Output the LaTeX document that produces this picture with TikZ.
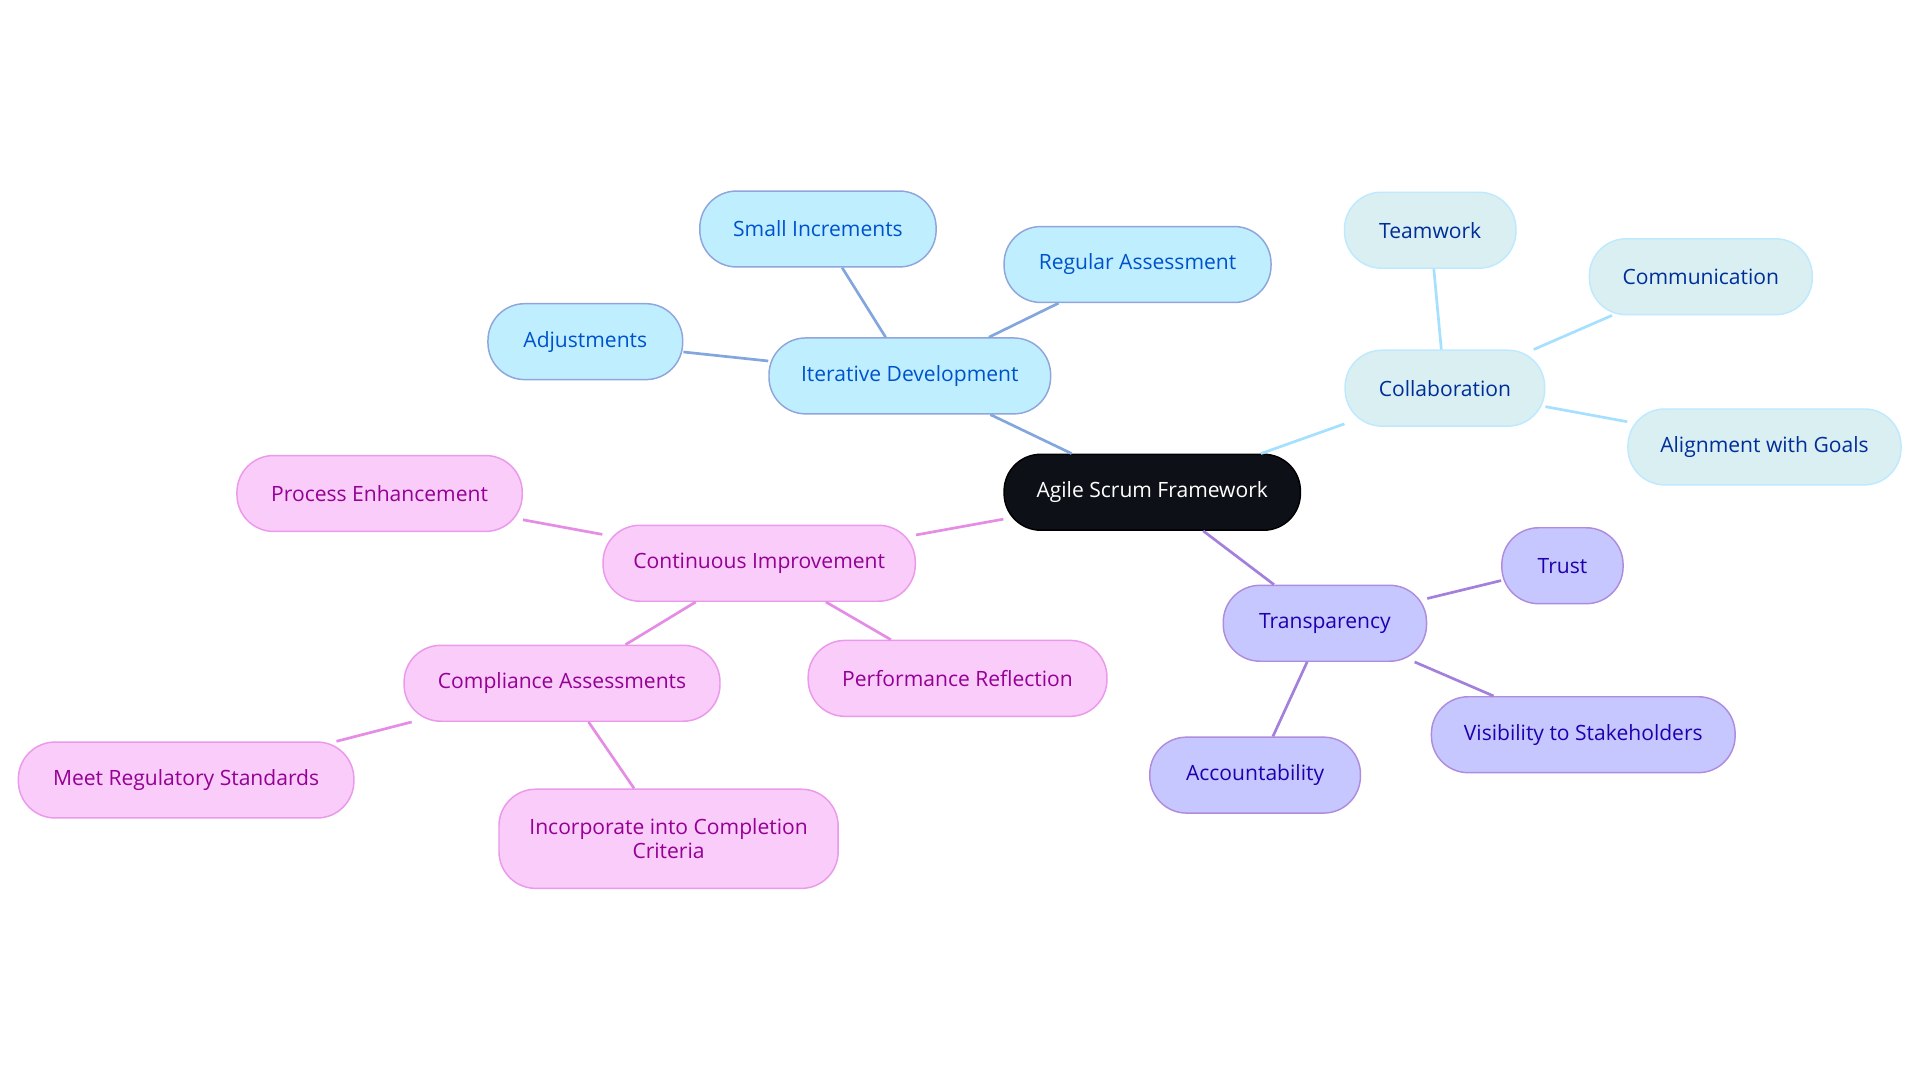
\documentclass[tikz,border=0pt]{standalone}
\usepackage{fontspec}
\setmainfont{Open Sans}
\begin{document}
\begin{tikzpicture}[x=0.5pt,y=-0.5pt,
 base/.style={rectangle,rounded corners=15pt,minimum height=31pt,inner sep=0pt,line width=0.6pt,font=\fontsize{8.6}{10}\selectfont,align=center},
 root/.style={base,fill=black!90!blue!60!black,draw=black,text=white},
 bl/.style={base,fill=blue!25!cyan!25!white,draw=cyan!40!blue!45!white,text=blue!60!cyan!80!black},
 lb/.style={base,fill=blue!15!cyan!10!white!95!black,draw=blue!35!cyan!25!white,text=blue!70!cyan!60!black},
 pu/.style={base,fill=blue!22!white,draw=blue!40!violet!45!white,text=blue!70!violet!80!black},
 pk/.style={base,fill=violet!22!magenta!20!white,draw=violet!40!magenta!40!white,text=violet!70!magenta!90!black},
 eb/.style={line width=1.1pt,draw=cyan!50!blue!50!white},
 el/.style={line width=1.1pt,draw=blue!35!cyan!35!white},
 ep/.style={line width=1.1pt,draw=blue!45!violet!50!white},
 ek/.style={line width=1.1pt,draw=violet!45!magenta!45!white}]
\useasboundingbox (0,0) rectangle (1568,884);
\definecolor{rootc}{HTML}{0D1117}
\node[root,fill=rootc,minimum width=121pt] (r) at (941,402) {Agile Scrum Framework};
\node[bl,minimum width=115pt] (it) at (743,307) {Iterative Development};
\node[bl,minimum width=96.5pt] (si) at (668,187) {Small Increments};
\node[bl,minimum width=109pt] (ra) at (929,216) {Regular Assessment};
\node[bl,minimum width=79.5pt] (ad) at (478,279) {Adjustments};
\node[lb,minimum width=81.5pt] (co) at (1180,317) {Collaboration};
\node[lb,minimum width=70pt] (tw) at (1168,188) {Teamwork};
\node[lb,minimum width=91pt] (cm) at (1389,226) {Communication};
\node[lb,minimum width=111.5pt] (ag) at (1441,365) {Alignment with Goals};
\node[pu,minimum width=83pt] (tr) at (1082,509) {Transparency};
\node[pu,minimum width=49.5pt] (tu) at (1276,462) {Trust};
\node[pu,minimum width=124pt] (vs) at (1293,600) {Visibility to Stakeholders};
\node[pu,minimum width=86pt] (ac) at (1025,633) {Accountability};
\node[pk,minimum width=127.5pt] (ci) at (620,460) {Continuous Improvement};
\node[pk,minimum width=116.5pt] (pe) at (310,403) {Process Enhancement};
\node[pk,minimum width=122pt] (pr) at (782,554) {Performance Reflection};
\node[pk,minimum width=129pt] (ca) at (459,558) {Compliance Assessments};
\node[pk,minimum width=137pt] (mr) at (152,637) {Meet Regulatory Standards};
\node[pk,minimum width=138.5pt,minimum height=40.5pt] (ic) at (546,685) {Incorporate into Completion\\Criteria};
\begin{scope}[on background layer/.style={}]
\end{scope}
\begin{pgfinterruptboundingbox}\end{pgfinterruptboundingbox}
\path[eb] (r) -- (it) (it) -- (si) (it) -- (ra) (it) -- (ad);
\path[el] (r) -- (co) (co) -- (tw) (co) -- (cm) (co) -- (ag);
\path[ep] (r) -- (tr) (tr) -- (tu) (tr) -- (vs) (tr) -- (ac);
\path[ek] (r) -- (ci) (ci) -- (pe) (ci) -- (pr) (ci) -- (ca) (ca) -- (mr) (ca) -- (ic);
\end{tikzpicture}
\end{document}
